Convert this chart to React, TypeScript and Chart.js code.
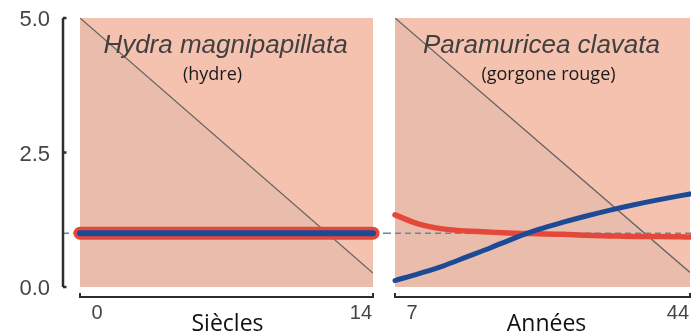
import React, { useEffect, useRef } from "react";
import { Chart, registerables } from "chart.js";

Chart.register(...registerables);

// ---- shared ----
const yTicks = [0, 2.5, 5];
const refLevel = 1;

// ---- Hydra magnipapillata ----
const hydraTitle = "Hydra magnipapillata";
const hydraSub = "(hydre)";
const hydraXLabel = "Siècles";
const hydraXTicks = [0, 14];
const hydraX = [0, 14];
const hydraRed = [1, 1];
const hydraBlue = [1, 1];
const hydraDiagX = [0, 14];
const hydraDiag = [5, 0.26];

// ---- Paramuricea clavata ----
const paraTitle = "Paramuricea clavata";
const paraSub = "(gorgone rouge)";
const paraXLabel = "Années";
const paraXTicks = [7, 44];
const paraX = [7, 10, 13, 16, 19, 22, 25, 28, 31, 34, 37, 40, 44];
const paraRed = [1.34, 1.17, 1.08, 1.04, 1.02, 1.0, 0.99, 0.98, 0.96, 0.95, 0.94, 0.94, 0.93];
const paraBlue = [0.12, 0.25, 0.39, 0.56, 0.73, 0.91, 1.07, 1.2, 1.32, 1.43, 1.53, 1.62, 1.73];
const paraDiagX = [7, 44];
const paraDiag = [5, 0.27];

const BG = "#f5c2b0";
const LOWER = "#eabcab";
const RED = "#e4483a";
const BLUE = "#1d4a96";
const DIAG = "#646464";
const DASH = "#6585b0";

const sans = "'Liberation Sans', Arial, Helvetica, sans-serif";
const hum = "'Open Sans', Lato, sans-serif";

type Cfg = {
  title: string;
  sub: string;
  xLabel: string;
  xTicks: number[];
  drawY: boolean;
  dashFrom: number;
  titleDx: number;
  subDx: number;
  labelDx: number;
};

function makeDecor(cfg: Cfg) {
  return {
    id: "decor",
    beforeDatasetsDraw(chart: any) {
      const { ctx, chartArea: a } = chart;
      ctx.save();
      ctx.fillStyle = BG;
      ctx.fillRect(a.left, a.top, a.right - a.left, a.bottom - a.top);
      ctx.restore();
    },
    beforeDatasetDraw(chart: any, args: any) {
      if (args.index !== 1) return;
      const { ctx } = chart;
      const y = chart.scales.y.getPixelForValue(refLevel);
      ctx.save();
      ctx.setLineDash([6, 4]);
      ctx.strokeStyle = DASH;
      ctx.lineWidth = 1.4;
      ctx.beginPath();
      ctx.moveTo(cfg.dashFrom, y);
      ctx.lineTo(chart.width, y);
      ctx.stroke();
      ctx.restore();
    },
    afterDraw(chart: any) {
      const { ctx, chartArea: a, scales } = chart;
      const xs = scales.x;
      const ys = scales.y;
      const cx = (a.left + a.right) / 2;
      ctx.save();
      // titles
      ctx.textAlign = "center";
      ctx.textBaseline = "middle";
      ctx.fillStyle = "#404040";
      ctx.font = `italic 26px ${sans}`;
      ctx.fillText(cfg.title, cx + cfg.titleDx, a.top + 28);
      ctx.fillStyle = "#1a1a1a";
      ctx.font = `18px ${hum}`;
      ctx.fillText(cfg.sub, cx + cfg.subDx, a.top + 57);

      // y axis
      if (cfg.drawY) {
        const x = a.left - 17;
        const yt = ys.getPixelForValue(yTicks[yTicks.length - 1]);
        const yb = ys.getPixelForValue(yTicks[0]);
        ctx.strokeStyle = "#2e2e2e";
        ctx.lineWidth = 2.5;
        ctx.beginPath();
        ctx.moveTo(x, yt);
        ctx.lineTo(x, yb);
        ctx.stroke();
        ctx.font = `22px ${sans}`;
        ctx.fillStyle = "#454545";
        ctx.textAlign = "right";
        yTicks.forEach((v) => {
          const py = ys.getPixelForValue(v);
          ctx.beginPath();
          ctx.moveTo(x, py);
          ctx.lineTo(x + 3.5, py);
          ctx.stroke();
          ctx.fillText(v.toFixed(1), x - 13, py + 2);
        });
      }

      // x bracket
      const x0 = xs.getPixelForValue(cfg.xTicks[0]);
      const x1 = xs.getPixelForValue(cfg.xTicks[cfg.xTicks.length - 1]);
      const by = a.bottom + 10;
      ctx.strokeStyle = "#2e2e2e";
      ctx.lineWidth = 2;
      ctx.beginPath();
      ctx.moveTo(x0, by - 4);
      ctx.lineTo(x0, by);
      ctx.lineTo(x1, by);
      ctx.lineTo(x1, by - 4);
      ctx.stroke();

      ctx.font = `20px ${sans}`;
      ctx.fillStyle = "#454545";
      ctx.textAlign = "center";
      ctx.fillText(String(cfg.xTicks[0]), x0 + 17, a.bottom + 26);
      ctx.textAlign = "right";
      ctx.fillText(String(cfg.xTicks[cfg.xTicks.length - 1]), x1 - 1, a.bottom + 26);

      ctx.font = `23px ${hum}`;
      ctx.fillStyle = "#111";
      ctx.textAlign = "center";
      ctx.fillText(cfg.xLabel, cx + cfg.labelDx, a.bottom + 37);
      ctx.restore();
    },
  };
}

function pts(xs: number[], ys: number[]) {
  return xs.map((x, i) => ({ x, y: ys[i] }));
}

function makeChart(
  canvas: HTMLCanvasElement,
  padding: any,
  xMin: number,
  xMax: number,
  blue: any[],
  red: any[],
  diag: any[],
  widths: [number, number],
  cfg: Cfg
) {
  return new Chart(canvas, {
    type: "line",
    data: {
      datasets: [
        {
          data: blue,
          borderColor: BLUE,
          borderWidth: widths[0],
          pointRadius: 0,
          borderCapStyle: "round",
          tension: 0.4,
          cubicInterpolationMode: "monotone",
          fill: false,
          clip: 10,
        },
        {
          data: red,
          borderColor: RED,
          borderWidth: widths[1],
          pointRadius: 0,
          borderCapStyle: "round",
          tension: 0.4,
          cubicInterpolationMode: "monotone",
          fill: false,
          clip: 10,
        },
        {
          data: diag,
          borderColor: DIAG,
          borderWidth: 1.3,
          pointRadius: 0,
          fill: "start",
          backgroundColor: LOWER,
        },
      ],
    } as any,
    options: {
      responsive: false,
      animation: false,
      events: [],
      layout: { padding },
      scales: {
        x: { type: "linear", display: false, min: xMin, max: xMax },
        y: { type: "linear", display: false, min: 0, max: 5 },
      },
      plugins: { legend: { display: false }, tooltip: { enabled: false } },
    } as any,
    plugins: [makeDecor(cfg)],
  });
}

export default function App() {
  const leftRef = useRef<HTMLCanvasElement>(null);
  const rightRef = useRef<HTMLCanvasElement>(null);

  useEffect(() => {
    const c1 = makeChart(
      leftRef.current!,
      { left: 80, right: 12, top: 18, bottom: 48 },
      hydraXTicks[0],
      hydraXTicks[1],
      pts(hydraX, hydraBlue),
      pts(hydraX, hydraRed),
      pts(hydraDiagX, hydraDiag),
      [6, 13],
      {
        title: hydraTitle,
        sub: hydraSub,
        xLabel: hydraXLabel,
        xTicks: hydraXTicks,
        drawY: true,
        dashFrom: 63,
        titleDx: -1,
        subDx: -14,
        labelDx: 1,
      }
    );
    const c2 = makeChart(
      rightRef.current!,
      { left: 10, right: 1, top: 18, bottom: 48 },
      paraXTicks[0],
      paraXTicks[1],
      pts(paraX, paraBlue),
      pts(paraX, paraRed),
      pts(paraDiagX, paraDiag),
      [5, 5.5],
      {
        title: paraTitle,
        sub: paraSub,
        xLabel: paraXLabel,
        xTicks: paraXTicks,
        drawY: false,
        dashFrom: 0,
        titleDx: -1,
        subDx: 6,
        labelDx: 4,
      }
    );
    return () => {
      c1.destroy();
      c2.destroy();
    };
  }, []);

  return (
    <div style={{ position: "fixed", left: 0, top: 0, width: 691, height: 335, background: "#fff" }}>
      <canvas ref={leftRef} width={385} height={335} style={{ position: "absolute", left: 0, top: 0 }} />
      <canvas ref={rightRef} width={306} height={335} style={{ position: "absolute", left: 385, top: 0 }} />
    </div>
  );
}
